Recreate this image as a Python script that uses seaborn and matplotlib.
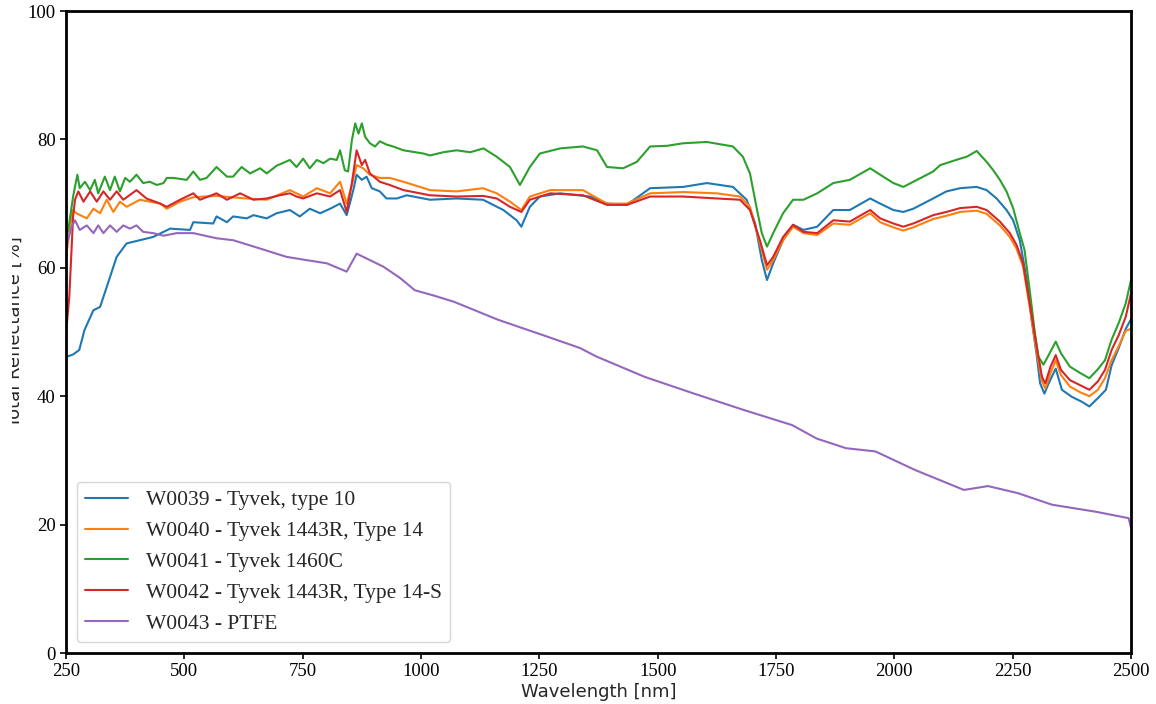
import numpy as np
import pandas as pd
import matplotlib
matplotlib.use('Agg')
import matplotlib.pyplot as plt
import seaborn as sns
from matplotlib.patches import Rectangle

# Valores (longitud de onda [nm], reflectancia [%])
nombres = ['W0039 - Tyvek, type 10',
           'W0040 - Tyvek 1443R, Type 14',
           'W0041 - Tyvek 1460C',
           'W0042 - Tyvek 1443R, Type 14-S',
           'W0043 - PTFE']

wl_39 = [250, 265, 278, 289, 308, 322, 336, 357, 378, 406, 434, 470, 512, 519, 561, 568, 590, 603, 632, 646,
         674, 695, 723, 744, 765, 787, 808, 829, 843, 857, 864, 875, 885, 896, 913, 927, 949, 970, 1019, 1075,
         1131, 1174, 1202, 1212, 1230, 1251, 1294, 1357, 1393, 1435, 1484, 1554, 1604, 1659, 1688, 1706, 1720,
         1731, 1744, 1765, 1786, 1808, 1837, 1871, 1906, 1949, 1970, 1998, 2019, 2040, 2061, 2082, 2110, 2139,
         2174, 2195, 2216, 2237, 2251, 2265, 2280, 2290, 2301, 2308, 2317, 2326, 2341, 2354, 2375, 2397, 2412,
         2430, 2447, 2459, 2474, 2489, 2500]
r_39 = [46.1, 46.5, 47.2, 50.3, 53.4, 53.9, 57.0, 61.7, 63.8, 64.3, 64.8, 66.1, 65.9, 67.1, 66.9, 68.0, 67.1,
        68.0, 67.7, 68.2, 67.7, 68.5, 69.0, 68.0, 69.2, 68.5, 69.2, 70.0, 68.2, 72.1, 74.5, 73.7, 74.2, 72.4,
        71.9, 70.8, 70.8, 71.3, 70.6, 70.8, 70.6, 69.0, 67.4, 66.4, 69.5, 71.1, 71.6, 71.1, 70.0, 69.8, 72.4,
        72.6, 73.2, 72.6, 70.6, 66.9, 61.2, 58.1, 60.7, 64.3, 66.7, 65.9, 66.4, 69.0, 69.0, 70.8, 70.0, 69.0,
        68.7, 69.2, 70.0, 70.8, 71.9, 72.4, 72.6, 72.1, 70.8, 69.0, 67.4, 64.3, 58.0, 52.0, 46.2, 42.0, 40.4,
        42.0, 44.3, 41.0, 39.9, 39.1, 38.4, 39.7, 41.0, 44.8, 47.5, 50.5, 52.0]

wl_40 = [250, 264, 272, 294, 308, 322, 336, 350, 364, 378, 406, 449, 463, 491, 519, 568, 631, 674, 723, 751,
         780, 808, 829, 843, 854, 864, 878, 892, 913, 934, 963, 1019, 1075, 1131, 1160, 1188, 1212, 1230, 1273,
         1342, 1393, 1435, 1484, 1554, 1625, 1674, 1695, 1716, 1731, 1744, 1765, 1786, 1808, 1837, 1871, 1906,
         1949, 1970, 1998, 2019, 2040, 2082, 2110, 2139, 2174, 2195, 2223, 2244, 2258, 2272, 2287, 2301, 2312,
         2319, 2330, 2341, 2352, 2371, 2393, 2412, 2430, 2445, 2459, 2474, 2489, 2500]
r_40 = [61.7, 69.0, 68.5, 67.7, 69.2, 68.5, 70.6, 68.7, 70.3, 69.5, 70.6, 70.0, 69.2, 70.3, 71.0, 71.2, 70.8,
        70.6, 72.1, 71.1, 72.4, 71.6, 73.4, 70.0, 72.9, 76.0, 75.5, 74.5, 74.0, 74.0, 73.4, 72.1, 71.9, 72.4,
        71.6, 70.3, 69.0, 71.1, 72.1, 72.1, 70.0, 70.0, 71.6, 71.8, 71.6, 71.1, 69.5, 63.8, 59.7, 61.2, 64.3,
        66.4, 65.4, 65.1, 66.9, 66.7, 68.5, 67.1, 66.3, 65.8, 66.3, 67.6, 68.1, 68.7, 68.9, 68.4, 66.6, 64.8,
        63.0, 60.2, 53.4, 46.7, 42.3, 41.2, 43.6, 45.6, 43.3, 41.5, 40.6, 40.0, 41.0, 42.8, 45.6, 47.8, 50.2,
        50.5]

wl_41 = [250, 255, 265, 274, 279, 290, 301, 311, 318, 332, 343, 353, 364, 375, 385, 399, 413, 427, 442, 456,
         463, 477, 505, 519, 533, 547, 568, 590, 603, 621, 639, 660, 674, 695, 723, 737, 751, 765, 780, 794,
         808, 822, 829, 839, 846, 854, 861, 868, 875, 882, 892, 903, 913, 927, 941, 963, 1005, 1019, 1047,
         1075, 1104, 1132, 1160, 1188, 1209, 1230, 1251, 1294, 1342, 1372, 1393, 1427, 1456, 1484, 1520, 1554,
         1604, 1659, 1680, 1695, 1710, 1720, 1731, 1744, 1765, 1786, 1808, 1837, 1871, 1906, 1949, 1970, 1998,
         2019, 2040, 2061, 2082, 2097, 2118, 2139, 2153, 2174, 2195, 2209, 2223, 2237, 2251, 2265, 2275, 2286,
         2297, 2304, 2315, 2326, 2341, 2352, 2371, 2393, 2412, 2430, 2445, 2459, 2474, 2489, 2500]
r_41 = [64.8, 66.0, 71.1, 74.5, 72.4, 73.4, 72.1, 73.7, 71.6, 74.2, 72.1, 74.2, 71.9, 74.0, 73.4, 74.5, 73.2,
        73.4, 72.9, 73.2, 74.0, 74.0, 73.7, 75.0, 73.7, 74.0, 75.7, 74.2, 74.2, 75.7, 74.7, 75.5, 74.7, 75.9,
        76.8, 75.7, 77.0, 75.5, 76.8, 76.3, 77.0, 76.8, 78.3, 75.2, 75.0, 79.9, 82.5, 80.9, 82.5, 80.4, 79.4,
        78.9, 79.7, 79.2, 78.9, 78.3, 77.8, 77.5, 78.0, 78.3, 78.0, 78.6, 77.3, 75.7, 72.9, 75.7, 77.8, 78.6,
        78.9, 78.3, 75.7, 75.5, 76.5, 78.9, 79.0, 79.4, 79.6, 78.9, 77.3, 74.7, 69.0, 65.4, 63.3, 65.4, 68.5,
        70.6, 70.6, 71.6, 73.2, 73.7, 75.5, 74.5, 73.2, 72.6, 73.4, 74.2, 75.0, 76.0, 76.5, 77.0, 77.3, 78.2,
        76.5, 75.2, 73.7, 71.9, 69.3, 65.4, 62.8, 56.5, 49.8, 46.2, 44.9, 46.4, 48.5, 46.7, 44.6, 43.6, 42.8,
        44.2, 45.6, 48.8, 51.4, 54.5, 58.1]

wl_42 = [250, 257, 265, 269, 276, 287, 301, 315, 329, 343, 357, 371, 399, 420, 449, 463, 491, 519, 533, 568,
         590, 618, 646, 674, 702, 723, 737, 751, 780, 808, 829, 843, 854, 864, 875, 882, 892, 913, 934, 963,
         1019, 1075, 1131, 1160, 1188, 1212, 1230, 1273, 1342, 1393, 1435, 1484, 1554, 1625, 1674, 1695, 1716,
         1731, 1744, 1765, 1786, 1808, 1837, 1871, 1906, 1949, 1970, 1998, 2019, 2040, 2082, 2110, 2139, 2174,
         2195, 2223, 2244, 2258, 2272, 2287, 2301, 2312, 2319, 2330, 2341, 2352, 2371, 2393, 2412, 2430, 2445,
         2459, 2474, 2489, 2500]
r_42 = [49.8, 55.5, 68.0, 70.6, 71.9, 70.3, 71.9, 70.3, 71.9, 70.6, 71.9, 70.6, 72.1, 70.8, 70.0, 69.5, 70.6,
        71.6, 70.6, 71.6, 70.6, 71.6, 70.6, 70.8, 71.3, 71.6, 71.1, 70.8, 71.6, 71.1, 72.1, 68.7, 73.2, 78.3,
        76.0, 76.8, 74.7, 73.4, 72.9, 72.1, 71.3, 71.1, 71.2, 70.8, 69.5, 68.7, 70.6, 71.6, 71.3, 69.8, 69.8,
        71.1, 71.1, 70.8, 70.6, 69.0, 64.3, 60.4, 61.7, 64.8, 66.7, 65.6, 65.4, 67.4, 67.2, 69.0, 67.7, 66.9,
        66.4, 66.9, 68.2, 68.7, 69.3, 69.5, 69.0, 67.2, 65.4, 63.6, 60.7, 54.0, 47.7, 43.0, 42.0, 44.6, 46.4,
        44.1, 42.5, 41.7, 41.0, 42.3, 44.1, 47.2, 49.5, 52.4, 56.0]

wl_43 = [250, 262, 269, 279, 294, 308, 318, 329, 343, 357, 371, 385, 399, 413, 434, 456, 484, 519, 568, 603,
         660, 716, 758, 801, 843, 864, 892, 920, 956, 987, 1026, 1070, 1163, 1266, 1336, 1370, 1473, 1577, 1680,
         1784, 1836, 1898, 1960, 2044, 2147, 2198, 2261, 2333, 2426, 2495, 2500]
r_43 = [63.3, 66.4, 67.4, 65.9, 66.6, 65.4, 66.6, 65.4, 66.6, 65.6, 66.6, 66.1, 66.6, 65.6, 65.4, 65.0, 65.4,
        65.4, 64.6, 64.3, 63.0, 61.7, 61.2, 60.7, 59.4, 62.2, 61.2, 60.2, 58.4, 56.5, 55.7, 54.7, 51.9, 49.3,
        47.5, 46.2, 43.0, 40.4, 37.9, 35.5, 33.4, 31.9, 31.4, 28.5, 25.4, 26.0, 24.9, 23.1, 22.0, 21.0, 19.5]

series = [(wl_39, r_39), (wl_40, r_40), (wl_41, r_41), (wl_42, r_42), (wl_43, r_43)]
frames = []
for nombre, (wl, r) in zip(nombres, series):
    frames.append(pd.DataFrame({'Wavelength': wl, 'Reflectance': r, 'Muestra': nombre}))
df = pd.concat(frames, ignore_index=True)

sns.set_style('ticks')
plt.rcParams['axes.linewidth'] = 2

fig = plt.figure(figsize=(11.56, 7.04), dpi=100)
ax = fig.add_axes([66/1156, 1 - 653/704, 1065/1156, 642/704])

sns.lineplot(data=df, x='Wavelength', y='Reflectance', hue='Muestra', hue_order=nombres,
             palette='tab10', estimator=None, sort=False, linewidth=1.5, ax=ax)

ax.set_xlim(250, 2500)
ax.set_ylim(0, 100)
ax.set_xticks([250, 500, 750, 1000, 1250, 1500, 1750, 2000, 2250, 2500])
ax.set_yticks([0, 20, 40, 60, 80, 100])
for lab in ax.get_xticklabels() + ax.get_yticklabels():
    lab.set_family('Liberation Serif')
    lab.set_fontsize(13.5)
ax.tick_params(direction='out', length=4, width=1.2, colors='black')
for s in ax.spines.values():
    s.set_visible(True)
    s.set_color('black')

ax.set_xlabel('Wavelength [nm]', fontsize=13, family='DejaVu Sans', labelpad=2)
ax.set_ylabel('Total Reflectance [%]', fontsize=13, family='DejaVu Sans')
ax.yaxis.set_label_coords(-0.04, 0.5)

leg = ax.legend(loc='lower left', prop={'family': 'Liberation Serif', 'size': 15.5},
                borderaxespad=0.5, frameon=True)
for h in leg.get_lines():
    h.set_linewidth(1.5)

# el borde izquierdo de la figura original recorta la etiqueta del eje y
fig.patches.append(Rectangle((0, 0), 12.5/1156, 1, transform=fig.transFigure,
                             facecolor='white', edgecolor='none', zorder=10))

fig.savefig('out.png', dpi=100)
